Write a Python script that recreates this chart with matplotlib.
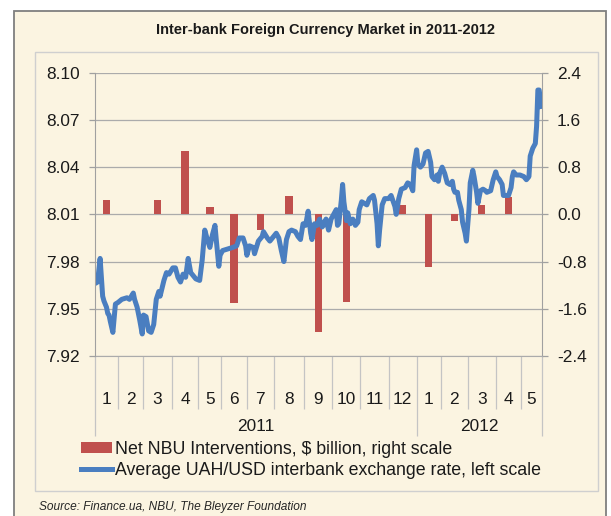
import numpy as np
import matplotlib
matplotlib.use("Agg")
import matplotlib.pyplot as plt
from matplotlib.patches import Patch, Rectangle
from matplotlib.lines import Line2D
from matplotlib.ticker import FormatStrFormatter

plt.rcParams['font.family'] = ['Liberation Sans', 'DejaVu Sans']

# month labels and trading days per month (Jan 2011 .. May 2012)
months = ['1', '2', '3', '4', '5', '6', '7', '8', '9', '10', '11', '12',
          '1', '2', '3', '4', '5']
years = ['2011', '2012']
months_per_year = [12, 5]
month_days = [18, 20, 22, 21, 18, 20, 21, 24, 22, 22, 22, 22,
              19, 21, 22, 20, 16]

# net NBU interventions, $ billion (right scale)
nbu = [0.25, 0.01, 0.24, 1.07, 0.12, -1.51, -0.27, 0.31, -1.99, -1.49, 0.0, 0.16,
       -0.89, -0.11, 0.15, 0.30, 0.0]

# average UAH/USD interbank rate, by trading day (left scale)
day = [0, 2, 4, 6, 7, 9, 10, 11, 12, 14,
       16, 18, 21, 25, 27, 30, 31, 33, 35, 37,
       38, 40, 42, 44, 46, 48, 50, 51, 54, 56,
       58, 61, 63, 65, 67, 69, 71, 73, 75, 77,
       79, 82, 84, 86, 88, 90, 92, 94, 95, 97,
       98, 100, 104, 108, 111, 113, 116, 118, 119, 121,
       124, 125, 128, 131, 132, 135, 137, 138, 140, 142,
       144, 146, 148, 150, 152, 154, 157, 159, 161, 163,
       165, 167, 169, 170, 172, 174, 176, 178, 179, 181,
       183, 185, 187, 189, 190, 191, 193, 194, 195, 197,
       198, 200, 202, 204, 206, 207, 209, 211, 213, 215,
       218, 219, 221, 222, 223, 225, 227, 230, 232, 235,
       236, 238, 240, 243, 245, 247, 249, 250, 252, 253,
       255, 257, 259, 261, 263, 264, 266, 268, 269, 270,
       272, 274, 276, 278, 280, 281, 282, 284, 285, 287,
       288, 290, 291, 293, 294, 296, 297, 299, 300, 302,
       304, 306, 307, 310, 312, 314, 315, 317, 319, 320,
       322, 324, 326, 327, 328, 330, 333, 336, 338, 340,
       341, 343, 345, 346, 347, 348, 350]
rate = [7.966, 7.967, 7.982, 7.958, 7.955, 7.951, 7.947, 7.946, 7.942, 7.935,
        7.953, 7.954, 7.956, 7.957, 7.956, 7.960, 7.956, 7.951, 7.943, 7.934,
        7.946, 7.945, 7.936, 7.935, 7.940, 7.956, 7.961, 7.958, 7.968, 7.973,
        7.972, 7.976, 7.976, 7.970, 7.967, 7.972, 7.970, 7.982, 7.973, 7.971,
        7.969, 7.968, 7.981, 8.000, 7.994, 7.989, 7.997, 8.003, 7.994, 7.977,
        7.984, 7.987, 7.988, 7.989, 7.990, 7.995, 7.995, 7.990, 7.984, 7.990,
        7.989, 7.985, 7.993, 7.996, 7.999, 7.995, 7.993, 7.994, 7.996, 7.998,
        7.995, 7.987, 7.980, 7.994, 7.999, 8.000, 7.999, 7.996, 7.994, 8.004,
        8.003, 8.012, 7.998, 7.994, 8.004, 8.003, 8.007, 8.002, 8.003, 8.007,
        8.000, 8.007, 8.010, 8.013, 8.003, 8.004, 8.019, 8.029, 8.018, 8.006,
        8.011, 8.004, 8.007, 8.003, 8.005, 8.013, 8.018, 8.017, 8.016, 8.020,
        8.022, 8.019, 8.004, 7.990, 8.000, 8.016, 8.020, 8.020, 8.022, 8.015,
        8.010, 8.020, 8.026, 8.027, 8.030, 8.029, 8.025, 8.041, 8.051, 8.042,
        8.040, 8.042, 8.049, 8.050, 8.043, 8.034, 8.032, 8.035, 8.031, 8.036,
        8.040, 8.036, 8.030, 8.029, 8.031, 8.026, 8.024, 8.024, 8.019, 8.013,
        8.005, 7.998, 7.993, 8.013, 8.030, 8.038, 8.034, 8.024, 8.017, 8.025,
        8.026, 8.025, 8.024, 8.025, 8.032, 8.037, 8.034, 8.032, 8.029, 8.022,
        8.022, 8.022, 8.027, 8.034, 8.037, 8.035, 8.035, 8.034, 8.032, 8.034,
        8.047, 8.052, 8.055, 8.066, 8.089, 8.089, 8.077]

left_ticks = [7.92, 7.95, 7.98, 8.01, 8.04, 8.07, 8.10]
right_ticks = [-2.4, -1.6, -0.8, 0.0, 0.8, 1.6, 2.4]

bar_color = '#C0504D'
line_color = '#4A7EC0'
cream = '#FBF4E1'
grid_color = '#ABABAB'

bounds = np.concatenate([[0], np.cumsum(month_days)])
centers = (bounds[:-1] + bounds[1:]) / 2
year_idx = np.concatenate([[0], np.cumsum(months_per_year)])
year_bounds = bounds[year_idx]
month_bounds = [b for b in bounds if b not in year_bounds]

W, H = 611, 516
fig = plt.figure(figsize=(W / 100, H / 100), dpi=100)
fig.patch.set_facecolor('white')

# frames
fig.add_artist(Rectangle((14.3 / W, -0.02), (605.7 - 14.3) / W, 1 - 11 / H + 0.02,
                         transform=fig.transFigure, facecolor=cream,
                         edgecolor='#7F7F7F', lw=1.3, zorder=-10))
fig.add_artist(Rectangle((34.7 / W, 1 - 490.7 / H), (597.7 - 34.7) / W, (490.7 - 52) / H,
                         transform=fig.transFigure, facecolor='none',
                         edgecolor='#CFCFCF', lw=1.0, zorder=-9))

ax = fig.add_axes([95 / W, 1 - 356 / H, (541.7 - 95) / W, (356 - 72.7) / H])
ax.set_facecolor('none')
ax2 = ax.twinx()

# bars on right scale
ax.bar(centers, nbu, width=5.8, color=bar_color, zorder=2)
ax.set_ylim(-2.4, 2.4)
ax.set_yticks(right_ticks)
ax.yaxis.set_major_formatter(FormatStrFormatter('%.1f'))
ax.yaxis.tick_right()
ax.grid(axis='y', color=grid_color, lw=0.9)
ax.set_axisbelow(True)
ax.set_xlim(0, bounds[-1])

# line on left scale
ax2.plot(day, rate, color=line_color, lw=3.6, solid_joinstyle='round',
         solid_capstyle='butt')
ax2.set_ylim(7.92, 8.10)
ax2.set_yticks(left_ticks)
ax2.yaxis.set_major_formatter(FormatStrFormatter('%.2f'))
ax2.yaxis.tick_left()

for s in ['top', 'left']:
    ax.spines[s].set_visible(False)
for s in ['top', 'right', 'bottom']:
    ax2.spines[s].set_visible(False)
ax.spines['right'].set_color('#A0A0A0')
ax.spines['bottom'].set_color(grid_color)
ax2.spines['left'].set_color('#A0A0A0')

ax.tick_params(axis='y', length=4, width=0.9, color='#A0A0A0', pad=7,
               labelsize=12.4, labelcolor='#1A1A1A')
ax2.tick_params(axis='y', length=4, width=0.9, color='#A0A0A0', pad=7,
                labelsize=12.4, labelcolor='#1A1A1A')

# month / year separators below the axis
ax.set_xticks(month_bounds)
ax.set_xticks(year_bounds, minor=True)
ax.tick_params(axis='x', which='major', length=38.4, width=0.9, color='#C4C4C4',
               labelbottom=False)
ax.tick_params(axis='x', which='minor', length=57.4, width=0.9, color='#C4C4C4',
               labelbottom=False)

xt = ax.get_xaxis_transform()
for c, m in zip(centers, months):
    ax.annotate(m, xy=(c, 0), xycoords=xt, xytext=(0, -31), textcoords='offset points',
                ha='center', va='center', fontsize=12.4, color='#1A1A1A')
for i, y in enumerate(years):
    yc = (year_bounds[i] + year_bounds[i + 1]) / 2
    ax.annotate(y, xy=(yc, 0), xycoords=xt, xytext=(0, -50.9), textcoords='offset points',
                ha='center', va='center', fontsize=12.4, color='#1A1A1A')

fig.text(326 / W, 1 - 30 / H, 'Inter-bank Foreign Currency Market in 2011-2012',
         ha='center', va='center', fontsize=10.5, fontweight='bold', color='#1A1A1A')

handles = [Patch(facecolor=bar_color),
           Line2D([], [], color=line_color, lw=3.6)]
labels = ['Net NBU Interventions, $ billion, right scale',
          'Average UAH/USD interbank exchange rate, left scale']
fig.legend(handles, labels, loc='upper left', bbox_to_anchor=(80.7 / W, 1 - 441 / H),
           frameon=False, fontsize=12.8, handlelength=1.78, handleheight=0.6,
           handletextpad=0.15, labelspacing=0.25, borderpad=0, borderaxespad=0,
           labelcolor='#1A1A1A')

fig.text(39 / W, 1 - 506.7 / H, 'Source: Finance.ua, NBU, The Bleyzer Foundation',
         ha='left', va='center', fontsize=8.6, style='italic', color='#262626')

fig.savefig('out.png', dpi=100)
